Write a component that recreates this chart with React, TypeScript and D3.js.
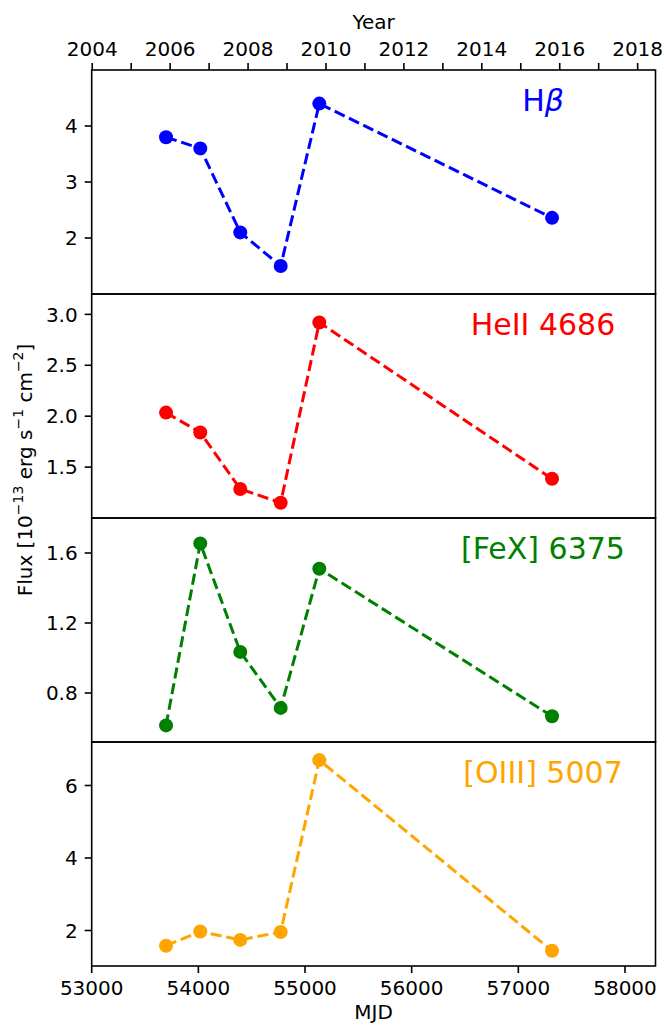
import React from "react";
import * as d3 from "d3";

const mjd = [53697, 54018, 54393, 54772, 55134, 57316];
const hbeta = [3.8, 3.6, 2.1, 1.5, 4.4, 2.36];
const heii = [2.035, 1.84, 1.285, 1.15, 2.92, 1.385];
const fex = [0.615, 1.655, 1.035, 0.715, 1.51, 0.667];
const oiii = [1.58, 1.97, 1.74, 1.96, 6.7, 1.44];

const mjdTicks = [53000, 54000, 55000, 56000, 57000, 58000];
const yearTicks = d3.range(2004, 2019);
const yearLabels = [2004, 2006, 2008, 2010, 2012, 2014, 2016, 2018];

const panels = [
  { key: "hb", values: hbeta, color: "#0000ff", domain: [1.0, 5.0], ticks: [2, 3, 4], fmt: "d", label: "Hβ" },
  { key: "he", values: heii, color: "#ff0000", domain: [1.0, 3.2], ticks: [1.5, 2.0, 2.5, 3.0], fmt: ".1f", label: "HeII 4686" },
  { key: "fe", values: fex, color: "#008000", domain: [0.52, 1.8], ticks: [0.8, 1.2, 1.6], fmt: ".1f", label: "[FeX] 6375" },
  { key: "o3", values: oiii, color: "#ffa500", domain: [1.02, 7.2], ticks: [2, 4, 6], fmt: "d", label: "[OIII] 5007" },
];

const W = 664;
const H = 1025;
const left = 91.7;
const right = 655.5;
const top = 70;
const panelH = 224;
const font = "DejaVu Sans, sans-serif";
const tickLen = 7;
const fs = 20;

const x = d3.scaleLinear().domain([53000, 58000]).range([left, 625]);
const yearToMjd = (y: number) => 51544 + (y - 2000) * 365.25;

export default function App() {
  const bottom = top + panelH * panels.length;
  return (
    <svg width={W} height={H} style={{ position: "absolute", left: 0, top: 0, background: "#fff" }} fontFamily={font}>
      {panels.map((p, i) => {
        const y0 = top + i * panelH;
        const y = d3.scaleLinear().domain(p.domain).range([y0 + panelH, y0]);
        const line = d3
          .line<number>()
          .x((_, j) => x(mjd[j]))
          .y((v) => y(v));
        const f = d3.format(p.fmt);
        return (
          <g key={p.key}>
            <path d={line(p.values) || ""} fill="none" stroke={p.color} strokeWidth={3} strokeDasharray="11.1,4.8" />
            {p.values.map((v, j) => (
              <circle key={j} cx={x(mjd[j])} cy={y(v)} r={7} fill={p.color} />
            ))}
            {p.ticks.map((t) => (
              <g key={t}>
                <line x1={left - tickLen} x2={left} y1={y(t)} y2={y(t)} stroke="#000" strokeWidth={1.6} />
                <text x={left - tickLen - 7} y={y(t)} dy="0.36em" textAnchor="end" fontSize={fs}>
                  {f(t)}
                </text>
              </g>
            ))}
            <text x={543} y={y0 + 41} textAnchor="middle" fontSize={30} fill={p.color}>
              {p.key === "hb" ? (
                <>
                  H<tspan fontStyle="italic">β</tspan>
                </>
              ) : (
                p.label
              )}
            </text>
            <rect x={left} y={y0} width={right - left} height={panelH} fill="none" stroke="#000" strokeWidth={1.6} />
          </g>
        );
      })}
      {mjdTicks.map((t) => (
        <g key={t}>
          <line x1={x(t)} x2={x(t)} y1={bottom} y2={bottom + tickLen} stroke="#000" strokeWidth={1.6} />
          <text x={x(t)} y={bottom + tickLen + 7} dy="0.76em" textAnchor="middle" fontSize={fs}>
            {t}
          </text>
        </g>
      ))}
      <text x={(left + right) / 2} y={1019} textAnchor="middle" fontSize={fs}>
        MJD
      </text>
      {yearTicks.map((yr) => (
        <line key={yr} x1={x(yearToMjd(yr))} x2={x(yearToMjd(yr))} y1={top} y2={top - tickLen} stroke="#000" strokeWidth={1.6} />
      ))}
      {yearLabels.map((yr) => (
        <text key={yr} x={x(yearToMjd(yr))} y={top - tickLen - 7} textAnchor="middle" fontSize={fs}>
          {yr}
        </text>
      ))}
      <text x={(left + right) / 2} y={29} textAnchor="middle" fontSize={fs}>
        Year
      </text>
      <text transform="translate(32,470) rotate(-90)" textAnchor="middle" fontSize={fs}>
        Flux [10<tspan fontSize={14} dy={-9}>−13</tspan>
        <tspan dy={9}> erg s</tspan>
        <tspan fontSize={14} dy={-9}>−1</tspan>
        <tspan dy={9}> cm</tspan>
        <tspan fontSize={14} dy={-9}>−2</tspan>
        <tspan dy={9}>]</tspan>
      </text>
    </svg>
  );
}
